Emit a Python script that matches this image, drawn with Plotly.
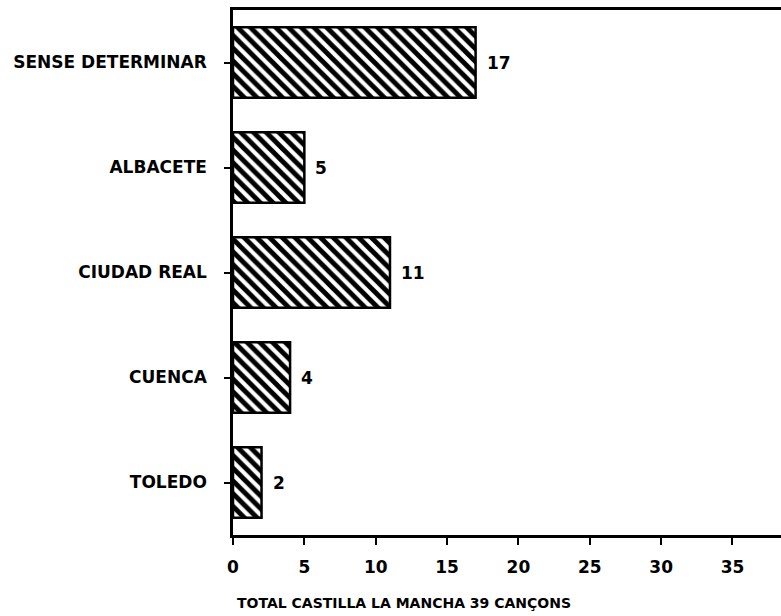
import plotly.graph_objects as go

categories = ["SENSE DETERMINAR", "ALBACETE", "CIUDAD REAL", "CUENCA", "TOLEDO"]
values = [17, 5, 11, 4, 2]
tick_vals = [0, 5, 10, 15, 20, 25, 30, 35]
tick_text = ["0", "5", "10", "15", "20", "25", "30", "35"]
title_text = "TOTAL CASTILLA LA MANCHA 39 CANÇONS"

FONT = "DejaVu Sans"
W, H = 781, 616
L, R, T, B = 233, 0, 10, 81
plot_w = W - L - R
plot_h = H - T - B

fig = go.Figure()
fig.add_trace(go.Bar(
    x=values,
    y=categories,
    orientation="h",
    marker=dict(
        color="white",
        line=dict(color="black", width=2.5),
        pattern=dict(shape="\\", fgcolor="#000000", bgcolor="#ffffff", fgopacity=1,
                     size=9, solidity=0.55),
    ),
    showlegend=False,
))

for c, v in zip(categories, values):
    fig.add_annotation(
        x=v, y=c, text=str(v), showarrow=False, xanchor="left", yanchor="middle",
        xshift=9, font=dict(family=FONT, size=17, color="black", weight="bold"),
    )

# title below the axis, positioned in pixels relative to plot area
fig.add_annotation(
    x=(404 - L) / plot_w, y=-(603 - (H - B)) / plot_h,
    xref="paper", yref="paper", xanchor="center", yanchor="middle",
    text=title_text, showarrow=False,
    font=dict(family=FONT, size=14, color="black", weight="bold"),
)

fig.update_layout(
    width=W, height=H,
    margin=dict(l=L, r=R, t=T, b=B, pad=0),
    plot_bgcolor="white", paper_bgcolor="white",
    bargap=0.33,
    font=dict(family=FONT, size=17, color="black", weight="bold"),
    xaxis=dict(
        range=[0, 38.4], tickvals=tick_vals, ticktext=tick_text,
        showgrid=False, zeroline=False,
        showline=True, linecolor="black", linewidth=2.5, mirror=True,
        ticks="outside", ticklen=7, tickwidth=2, tickcolor="black",
        ticklabelstandoff=8,
        tickfont=dict(family=FONT, size=17, color="black", weight="bold"),
    ),
    yaxis=dict(
        categoryorder="array", categoryarray=categories[::-1],
        range=[-0.5, 4.5],
        showgrid=False, zeroline=False,
        showline=True, linecolor="black", linewidth=2.5,
        ticks="outside", ticklen=6, tickwidth=2, tickcolor="black",
        ticklabelstandoff=14,
        tickfont=dict(family=FONT, size=17, color="black", weight="bold"),
    ),
)

fig.write_html(
    "out.html",
    config={"displayModeBar": False},
    post_script="document.body.style.margin='0';document.body.style.overflow='hidden';",
)
